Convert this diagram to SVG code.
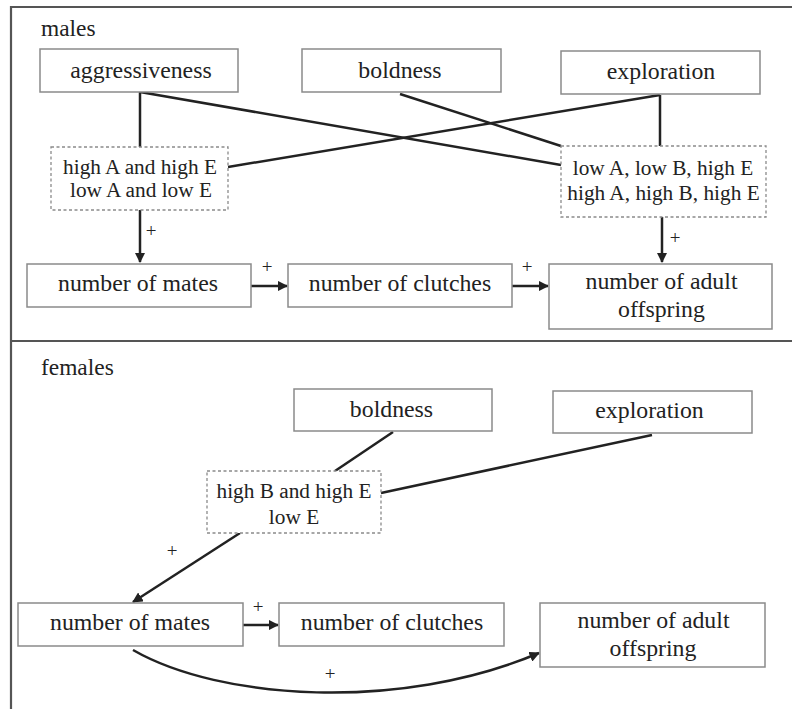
<svg xmlns="http://www.w3.org/2000/svg" width="792" height="709" viewBox="0 0 792 709">
<style>
.frame{stroke:#555;stroke-width:2.2;fill:none}
.box{fill:#fff;stroke:#8a8a8a;stroke-width:1.5}
.dbox{fill:#fff;stroke:#8a8a8a;stroke-width:1.3;stroke-dasharray:3 2.5}
text{font-family:'Liberation Serif','DejaVu Serif',serif;fill:#222}
.t{font-size:23.8px;text-anchor:middle}
.d{font-size:21.3px;text-anchor:middle}
.lab{font-size:23.4px}
.plus{font-size:19px;text-anchor:middle}
.ln{stroke:#222;stroke-width:2.5;fill:none}
</style>
<defs>
<marker id="ah" viewBox="0 0 10 10" refX="9" refY="5" markerWidth="4.2" markerHeight="4.2" orient="auto" markerUnits="strokeWidth">
<path d="M0,0 L10,5 L0,10 z" fill="#222"/>
</marker>
</defs>
<rect width="792" height="709" fill="#fff"/>
<g id="frame">
<path class="frame" d="M11,709 V7 H792"/>
<path class="frame" d="M11,341 H792"/>
</g>
<text class="lab" x="41" y="36">males</text>
<text class="lab" x="41" y="375">females</text>
<g id="connectors">
<path class="ln" d="M140,92 V147"/>
<path class="ln" d="M140,92 L561,165"/>
<path class="ln" d="M400,94 L561,146"/>
<path class="ln" d="M228,167 L660,95"/>
<path class="ln" d="M660,95 V146"/>
<path class="ln" d="M140,210 V262" marker-end="url(#ah)"/>
<path class="ln" d="M662,217 V262" marker-end="url(#ah)"/>
<path class="ln" d="M251,286 H287" marker-end="url(#ah)"/>
<path class="ln" d="M512,286 H548" marker-end="url(#ah)"/>
<path class="ln" d="M393,432 L335,471"/>
<path class="ln" d="M652,435 L381,493"/>
<path class="ln" d="M240,533 L133,602" marker-end="url(#ah)"/>
<path class="ln" d="M243,625 H278" marker-end="url(#ah)"/>
<path class="ln" d="M133,650 C220,700 400,712 539,653" marker-end="url(#ah)"/>
</g>
<g id="plus-labels">
<text class="plus" x="151" y="236.5">+</text>
<text class="plus" x="267" y="273">+</text>
<text class="plus" x="527" y="273">+</text>
<text class="plus" x="675" y="244">+</text>
<text class="plus" x="172" y="557">+</text>
<text class="plus" x="258" y="613">+</text>
<text class="plus" x="330" y="680">+</text>
</g>
<g id="m-aggr"><rect class="box" x="40" y="49" width="198" height="43"/><text class="t" x="141" y="78">aggressiveness</text></g>
<g id="m-bold"><rect class="box" x="302" y="49" width="199" height="43"/><text class="t" x="400" y="78">boldness</text></g>
<g id="m-expl"><rect class="box" x="561" y="51" width="199" height="43"/><text class="t" x="661" y="79">exploration</text></g>
<g id="m-combo1"><rect class="dbox" x="51" y="147" width="177" height="63"/><text class="d" x="140" y="174">high A and high E</text><text class="d" x="141" y="197">low A and low E</text></g>
<g id="m-combo2"><rect class="dbox" x="561" y="146" width="205" height="71"/><text class="d" x="663" y="175">low A, low B, high E</text><text class="d" x="663.5" y="200">high A, high B, high E</text></g>
<g id="m-mates"><rect class="box" x="27" y="264" width="224" height="43"/><text class="t" x="138" y="291">number of mates</text></g>
<g id="m-clutch"><rect class="box" x="288" y="264" width="224" height="43"/><text class="t" x="400" y="291">number of clutches</text></g>
<g id="m-off"><rect class="box" x="549" y="264" width="223" height="65"/><text class="t" x="661.5" y="289">number of adult</text><text class="t" x="661.5" y="317">offspring</text></g>
<g id="f-bold"><rect class="box" x="294" y="389" width="198" height="42"/><text class="t" x="391.5" y="417">boldness</text></g>
<g id="f-expl"><rect class="box" x="553" y="391" width="199" height="42"/><text class="t" x="649.5" y="418">exploration</text></g>
<g id="f-combo"><rect class="dbox" x="207" y="471" width="174" height="62"/><text class="d" x="294" y="498">high B and high E</text><text class="d" x="294" y="524">low E</text></g>
<g id="f-mates"><rect class="box" x="18" y="603" width="225" height="43"/><text class="t" x="130" y="630">number of mates</text></g>
<g id="f-clutch"><rect class="box" x="279" y="603" width="225" height="43"/><text class="t" x="392" y="630">number of clutches</text></g>
<g id="f-off"><rect class="box" x="540" y="603" width="225" height="64"/><text class="t" x="653.5" y="628">number of adult</text><text class="t" x="653" y="656">offspring</text></g>
</svg>
